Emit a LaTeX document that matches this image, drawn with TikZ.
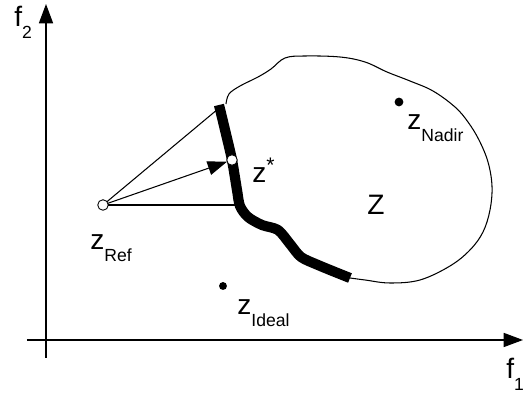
\documentclass[tikz,border=0pt]{standalone}
\usepackage{fontspec}
\setmainfont{Liberation Sans}
\usetikzlibrary{positioning, arrows.meta}

\tikzset{
  axis/.style={line width=0.8pt, -{Triangle[length=11pt, width=8pt]}},
  thinline/.style={line width=0.6pt},
  front/.style={line width=5.8pt, line join=round},
  opendot/.style={circle, draw=black, fill=white, line width=0.5pt, inner sep=0pt, outer sep=0pt, minimum size=6pt},
  fulldot/.style={circle, fill=black, inner sep=0pt, minimum size=5pt},
  lbl/.style={inner sep=0pt, anchor=base west, font=\fontsize{16}{18}\selectfont}
}
\newcommand{\sublbl}[1]{\lower6.5pt\hbox{\fontsize{10}{12}\selectfont #1}}

\begin{document}
\begin{tikzpicture}[x=0.02cm, y=-0.02cm]
\useasboundingbox (0,0) rectangle (529,394);

% Axes
\coordinate (ybot) at (46,358);
\coordinate (ytop) at (46,4);
\coordinate (xleft) at (27,340);
\coordinate (xright) at (523,340);
\draw[axis] (ybot) -- (ytop);
\draw[axis] (xleft) -- (xright);
\node[lbl] (f2) at (14,27) {f\sublbl{2}};
\node[lbl] (f1) at (506,379) {f\sublbl{1}};

% Objective region Z
\draw[thinline] plot[smooth, tension=0.6] coordinates {
  (226,104) (229,94) (240,86) (258,77) (271,69) (285,58) (305,56) (340,57)
  (365,62) (387,72) (410,81) (433,91) (455,107) (468,122) (479,140) (488,162)
  (492,186) (490,210) (483,232) (470,250) (450,266) (420,280) (390,283)
  (365,280) (350,278)};
\node[lbl] (zlbl) at (367,215) {Z};

% Pareto front
\draw[front] plot[smooth, tension=0.5] coordinates {
  (219,105) (226,134) (232,160) (237,190) (240,206) (248,217) (262,225)
  (278,230) (290,244) (301,257) (318,265) (335,272) (350,278)};

% Points
\node[opendot] (ref) at (103,205) {};
\node[opendot] (zstar) at (232,160) {};
\node[fulldot] (nadir) at (399,102) {};
\node[fulldot, minimum size=4.5pt] (ideal) at (223,286) {};
\coordinate (ptop) at (218,109);
\coordinate (hit) at (239,205);

% Projection from reference point
\draw[thinline] (ref) -- (ptop);
\draw[thinline] (ref) -- (hit);
\draw[thinline, -{Triangle[length=11pt, width=8pt]}] (ref) -- (zstar);

% Labels
\node[lbl] (starlbl) at (252,183) {z\raise6pt\hbox{\fontsize{12}{12}\selectfont *}};
\node[lbl] (nadirlbl) at (407,130) {z\sublbl{Nadir}};
\node[lbl] (reflbl) at (90,250) {z\sublbl{Ref}};
\node[lbl] (ideallbl) at (237,315) {z\sublbl{Ideal}};

\end{tikzpicture}
\end{document}
